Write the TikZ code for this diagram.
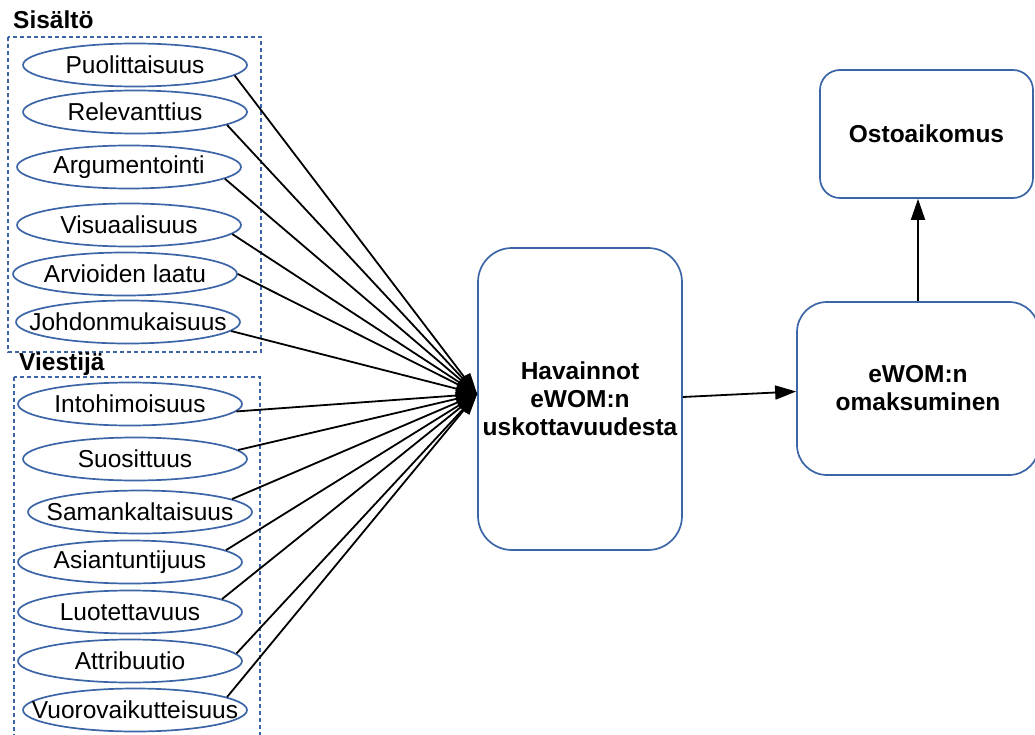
\documentclass[tikz,border=0pt]{standalone}
\usepackage{fontspec}
\setmainfont{Liberation Sans}
\usetikzlibrary{shapes.geometric,arrows.meta}
\definecolor{eblue}{RGB}{59,101,167}
\newcommand{\olab}[1]{\makebox[0pt]{#1}}
\begin{document}
\begin{tikzpicture}[x=1pt,y=-1pt,
  oval/.style={ellipse, draw=eblue, line width=1.7pt, minimum width=224pt, minimum height=43pt, inner sep=0pt, font=\fontsize{24.5}{28}\selectfont},
  grp/.style={draw=eblue, line width=1.5pt, dash pattern=on 4pt off 3pt},
  rbox/.style={rectangle, rounded corners=#1, draw=eblue, line width=1.7pt, align=center, font=\fontsize{24.5}{28}\selectfont\bfseries, inner sep=0pt},
  conn/.style={black, line width=1.8pt, -{Triangle[length=21pt,width=14pt]}},
  ttl/.style={anchor=west, font=\fontsize{24.5}{28}\selectfont\bfseries, inner sep=0pt}]
\useasboundingbox (0,0) rectangle (1035,735);

% groups
\draw[grp] (8,37) rectangle (261,352);
\draw[grp] (14,377) rectangle (260,745);
\node[ttl] (tsis) at (13,20) {Sisältö};
\node[ttl] (tvie) at (19,364) {Viestijä};

% Sisalto ellipses
\node[oval] (s1) at (135,65) {\olab{Puolittaisuus}};
\node[oval] (s2) at (135,112) {\olab{Relevanttius}};
\node[oval] (s3) at (129,167) {\olab{Argumentointi}};
\node[oval] (s4) at (129,225) {\olab{Visuaalisuus}};
\node[oval] (s5) at (125,274) {\olab{Arvioiden laatu}};
\node[oval] (s6) at (128,322) {\olab{Johdonmukaisuus}};

% Viestija ellipses
\node[oval] (v1) at (130,404) {\olab{Intohimoisuus}};
\node[oval] (v2) at (135,459) {\olab{Suosittuus}};
\node[oval] (v3) at (140,512) {\olab{Samankaltaisuus}};
\node[oval] (v4) at (130,562) {\olab{Asiantuntijuus}};
\node[oval] (v5) at (130,612) {\olab{Luotettavuus}};
\node[oval] (v6) at (130,661) {\olab{Attribuutio}};
\node[oval] (v7) at (135,710) {\olab{Vuorovaikutteisuus}};

% boxes
\node[rbox=34pt, minimum width=204pt, minimum height=302pt] (hav) at (580,399) {Havainnot\\eWOM:n\\uskottavuudesta};
\node[rbox=30pt, minimum width=242pt, minimum height=173pt] (ewom) at (918,388.5) {eWOM:n\\omaksuminen};
\node[rbox=20pt, minimum width=213pt, minimum height=128pt] (osto) at (926.5,134) {Ostoaikomus};
\coordinate (tip) at ([yshift=5pt]hav.west);

% connectors
\draw[conn] (s1.-6) -- (tip);
\draw[conn] (s2.-8) -- (tip);
\draw[conn] (s3.-7) -- (tip);
\draw[conn] (s4.-5) -- (tip);
\draw[conn] (s5.0) -- (tip);
\draw[conn] (s6.-5) -- (tip);
\draw[conn] (v1.-4) -- (tip);
\draw[conn] (v2.5) -- (tip);
\draw[conn] (v3.8) -- (tip);
\draw[conn] (v4.7) -- (tip);
\draw[conn] (v5.8) -- (tip);
\draw[conn] (v6.4) -- (tip);
\draw[conn] (v7.8) -- (tip);

\draw[conn] ([yshift=2pt]hav.east) -- ([yshift=-3pt]ewom.west);
\draw[conn] (ewom.north) -- (ewom.north |- osto.south);
\end{tikzpicture}
\end{document}
